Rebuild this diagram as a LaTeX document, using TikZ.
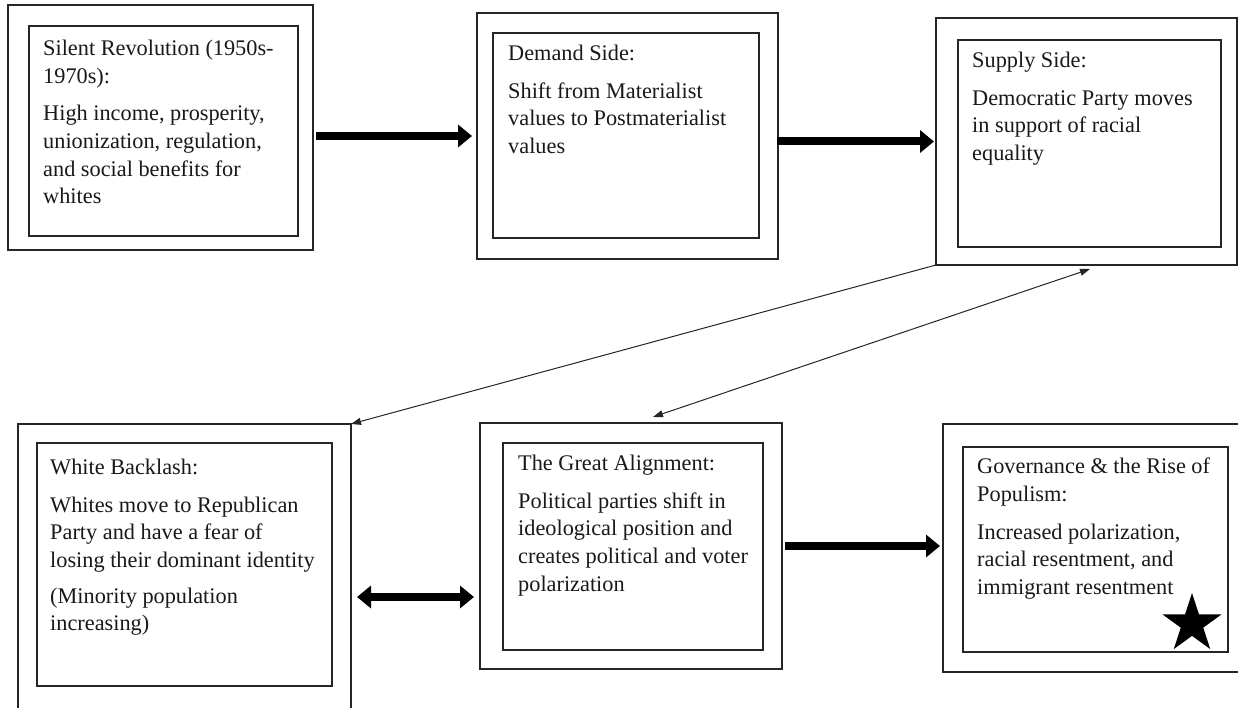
\documentclass[tikz,border=0pt]{standalone}
\usepackage{fontspec}
\setmainfont{Liberation Serif}
\usetikzlibrary{arrows.meta,shapes.geometric}
\tikzset{
  box/.style={draw=black!85, line width=1.3pt, rectangle, inner sep=0pt, outer sep=0pt},
  txt/.style={anchor=north west, inner sep=0pt, align=left, font=\fontsize{22.3}{27.6}\selectfont, text=black!90},
  bigarrow/.style={draw=black, line width=8pt, -{Triangle[length=14pt,width=22pt]}},
  bigdouble/.style={draw=black, line width=8pt, {Triangle[length=14pt,width=22pt]}-{Triangle[length=14pt,width=22pt]}},
  thinarrow/.style={draw=black!85, line width=1pt, -{Triangle[length=10pt,width=7pt]}},
  thinboth/.style={draw=black!85, line width=1pt, {Triangle[length=10pt,width=7pt]}-{Triangle[length=10pt,width=7pt]}}
}
\begin{document}
\begin{tikzpicture}[x=1pt, y=-1pt]
\useasboundingbox (0,0) rectangle (1238,708);
\fill[white] (0,0) rectangle (1238,708);
% outer boxes
\node[box, minimum width=305pt, minimum height=245pt] (b1o) at (160.5,127.5) {};
\node[box, minimum width=301pt, minimum height=246pt] (b2o) at (627.5,136) {};
\node[box, minimum width=301pt, minimum height=247pt] (b3o) at (1086.5,141.5) {};
\node[box, minimum width=333pt, minimum height=346pt] (b4o) at (184.5,597) {};
\node[box, minimum width=302pt, minimum height=246pt] (b5o) at (631,546) {};
\node[box, minimum width=297pt, minimum height=248pt] (b6o) at (1091.5,548) {};
% inner boxes
\node[box, minimum width=269pt, minimum height=210pt] (b1i) at (163.5,131) {};
\node[box, minimum width=266pt, minimum height=205pt] (b2i) at (626,135.5) {};
\node[box, minimum width=263pt, minimum height=207pt] (b3i) at (1089.5,143.5) {};
\node[box, minimum width=295pt, minimum height=243pt] (b4i) at (184.5,564.5) {};
\node[box, minimum width=260pt, minimum height=207pt] (b5i) at (633,546.5) {};
\node[box, minimum width=265pt, minimum height=205pt] (b6i) at (1095.5,549.5) {};
% texts
\node[txt] (t1) at ([xshift=14pt,yshift=-14pt]b1i.north west) {Silent Revolution (1950s-\\1970s):\\[10pt]High income, prosperity,\\unionization, regulation,\\and social benefits for\\whites};
\node[txt] (t2) at ([xshift=15pt,yshift=-12pt]b2i.north west) {Demand Side:\\[10pt]Shift from Materialist\\values to Postmaterialist\\values};
\node[txt] (t3) at ([xshift=14pt,yshift=-12pt]b3i.north west) {Supply Side:\\[10pt]Democratic Party moves\\in support of racial\\equality};
\node[txt] (t4) at ([xshift=13pt,yshift=-16pt]b4i.north west) {White Backlash:\\[10pt]Whites move to Republican\\Party and have a fear of\\losing their dominant identity\\[8pt](Minority population\\increasing)};
\node[txt] (t5) at ([xshift=15pt,yshift=-12pt]b5i.north west) {The Great Alignment:\\[10pt]Political parties shift in\\ideological position and\\creates political and voter\\polarization};
\node[txt] (t6) at ([xshift=14pt,yshift=-11pt]b6i.north west) {Governance \& the Rise of\\Populism:\\[10pt]Increased polarization,\\racial resentment, and\\immigrant resentment};
\node[star, star points=5, star point ratio=2.618, fill=black, inner sep=0pt, minimum size=62pt] (star) at (1192,624) {};
% coordinates for thin double arrow
\coordinate (gaTop) at (653,417);
\coordinate (ssBot) at (1090,269);
% thick arrows
\draw[bigarrow] ([xshift=3pt]b1o.east |- b2o.west) -- ([xshift=-5pt]b2o.west);
\draw[bigarrow] ([xshift=-1pt]b2o.east |- b3o.west) -- ([xshift=-2pt]b3o.west);
\draw[bigdouble] ([xshift=6pt]b4o.east) -- ([xshift=-6pt]b5o.west |- b4o.east);
\draw[bigarrow] ([xshift=3pt]b5o.east) -- ([xshift=-3pt]b6o.west |- b5o.east);
% thin arrows
\draw[thinarrow] (b3o.south west) -- (b4o.north east);
\draw[thinboth] (gaTop) -- (ssBot);
\end{tikzpicture}
\end{document}
